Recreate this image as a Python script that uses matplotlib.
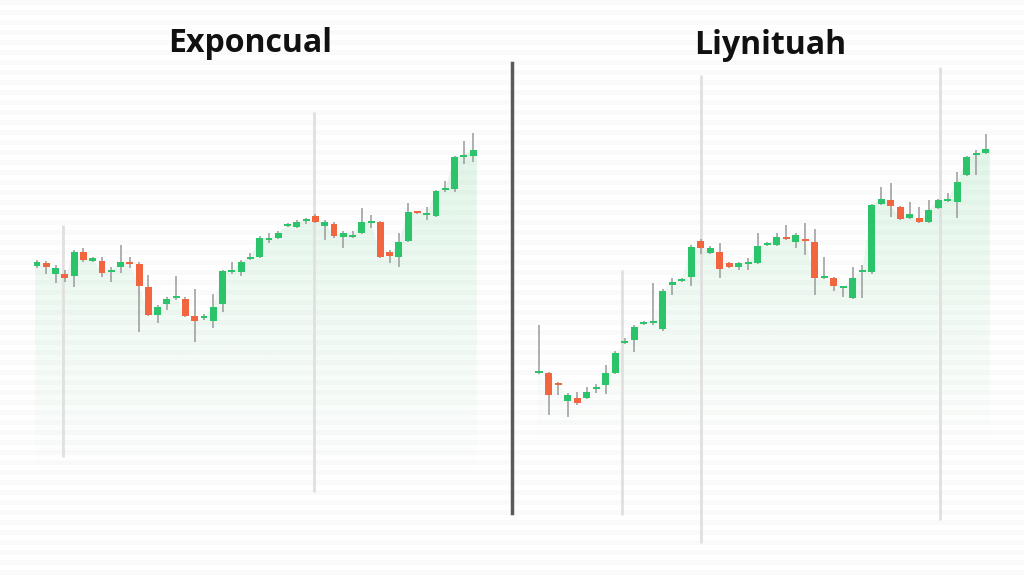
import matplotlib
matplotlib.use("Agg")
import matplotlib.pyplot as plt
import numpy as np
from matplotlib.patches import PathPatch
from matplotlib.path import Path
from matplotlib.lines import Line2D

# ---- data (price units) ----
titles = ["Exponcual", "Liynituah"]

left_open = [334, 337, 326, 326, 324, 348, 339, 339, 328, 333, 338, 336, 313, 285, 296, 302,
             301, 284, 282, 279, 296, 328, 328, 341, 343, 360, 362, 374, 373, 379, 384, 374,
             376, 363, 363, 367, 377, 378, 348, 343, 359, 388, 385, 384, 410, 411, 443, 444]
left_close = [338, 333, 332, 322, 348, 340, 342, 327, 330, 338, 336, 314, 285, 293, 301, 303,
              284, 279, 283, 293, 329, 329, 338, 343, 362, 361, 367, 375, 378, 380, 378, 378,
              364, 367, 364, 378, 378, 343, 344, 358, 388, 387, 387, 409, 411, 443, 445, 450]
left_high = [340, 339, 335, 330, 350, 352, 343, 343, 333, 355, 343, 338, 325, 295, 303, 324,
             303, 311, 286, 306, 330, 338, 340, 347, 364, 367, 369, 377, 380, 382, 386, 380,
             378, 369, 369, 392, 385, 379, 350, 367, 397, 389, 393, 410, 419, 444, 459, 467]
left_low = [332, 326, 317, 318, 313, 338, 338, 323, 318, 327, 332, 268, 284, 277, 290, 300,
            283, 258, 280, 272, 288, 326, 324, 340, 342, 357, 361, 373, 372, 376, 377, 360,
            362, 352, 362, 366, 372, 342, 337, 333, 358, 386, 380, 383, 408, 408, 436, 438]

right_open = [227, 227, 217, 199, 202, 202, 211, 215, 227, 257, 260, 276, 277, 271, 315, 319,
              323, 359, 347, 348, 337, 333, 336, 337, 355, 355, 362, 358, 360, 358, 322, 322,
              312, 302, 328, 328, 396, 400, 393, 382, 382, 378, 392, 399, 398, 425, 445, 447]
right_close = [228, 205, 215, 205, 197, 208, 212, 227, 247, 258, 273, 277, 278, 309, 318, 320,
               353, 352, 352, 331, 333, 337, 337, 354, 356, 363, 361, 365, 359, 322, 323, 314,
               313, 322, 329, 395, 401, 394, 381, 386, 378, 390, 400, 400, 418, 443, 446, 451]
right_high = [275, 228, 218, 207, 208, 213, 216, 235, 249, 262, 275, 279, 317, 311, 322, 322,
              355, 361, 354, 357, 338, 338, 342, 367, 358, 367, 375, 367, 377, 371, 343, 323,
              314, 333, 335, 396, 413, 417, 394, 398, 393, 400, 401, 407, 428, 444, 450, 466]
right_low = [226, 185, 205, 183, 195, 201, 207, 206, 226, 256, 248, 275, 275, 269, 305, 318,
             314, 346, 346, 322, 332, 330, 330, 336, 354, 354, 360, 352, 345, 305, 321, 309,
             303, 301, 302, 326, 395, 383, 380, 381, 377, 377, 391, 398, 382, 424, 425, 446]

GREEN = "#2bc46b"
RED = "#f2653f"
WICK = "#9a9a9a"
GUIDE = "#e0e0e0"


def draw_panel(ax, o, c, h, l, x0, step, fill_bottom, guides):
    o, c, h, l = map(np.array, (o, c, h, l))
    x = np.arange(len(o))
    ax.axis("off")
    ax.patch.set_alpha(0)

    # gradient fill under closes
    xs = np.concatenate([[x[0] - 0.2], x, [x[-1] + 0.4]])
    ys = np.concatenate([[c[0]], c, [c[-1]]])
    verts = np.column_stack([np.concatenate([xs, xs[::-1]]),
                             np.concatenate([ys, np.full(len(ys), fill_bottom)])])
    patch = PathPatch(Path(verts), facecolor="none", edgecolor="none")
    ax.add_patch(patch)
    grad = np.zeros((100, 1, 4))
    grad[:, 0, 0:3] = matplotlib.colors.to_rgb("#3cc46a")
    grad[:, 0, 3] = np.linspace(0.0, 0.15, 100)
    img = ax.imshow(grad, extent=[xs[0], xs[-1], fill_bottom, ys.max()],
                    origin="lower", aspect="auto", zorder=1, interpolation="bilinear")
    img.set_clip_path(patch)

    # guide lines
    for gx, gy0, gy1 in guides:
        ax.vlines((gx - x0) / step, gy0, gy1, color=GUIDE, lw=2, zorder=2)

    colors = [GREEN if cc >= oo else RED for oo, cc in zip(o, c)]
    ax.vlines(x, l, h, color=WICK, lw=1.1, zorder=3)
    bottom = np.minimum(o, c)
    height = np.maximum(np.abs(c - o), 2)
    ax.bar(x, height, bottom=bottom, width=0.74, color=colors, zorder=4)
    # half figure wide (512 px), full height: 1 price unit = 1 px
    ax.set_xlim(-x0 / step, (512 - x0) / step)
    ax.set_ylim(24, 600)


fig = plt.figure(figsize=(10.24, 5.76), dpi=100)
fig.patch.set_facecolor("white")

# faint striped background
bg = fig.add_axes([0, 0, 1, 1], zorder=-1)
bg.set_xlim(0, 1)
bg.set_ylim(576, 0)
bg.axis("off")
for yy in range(0, 576, 10):
    bg.axhspan(yy, yy + 5, color="#fafafa", lw=0)

ax1 = fig.add_axes([0, 0, 0.5, 1])
ax2 = fig.add_axes([0.5, 0, 0.5, 1])

draw_panel(ax1, left_open, left_close, left_high, left_low, 37, 9.28, 120,
           [(63, 375, 143), (314, 488, 108)])
draw_panel(ax2, right_open, right_close, right_high, right_low, 27, 9.51, 150,
           [(622 - 512, 330, 85), (701 - 512, 525, 57), (940 - 512, 533, 80)])

# divider
fig.add_artist(Line2D([512 / 1024, 512 / 1024], [1 - 63 / 576, 1 - 513 / 576],
                      color="#5a5a5a", lw=2.5))

fig.text(250 / 1024, 1 - 43 / 576, titles[0], ha="center", va="center",
         fontsize=23, fontweight="bold", family="Open Sans", color="#111111")
fig.text(770 / 1024, 1 - 45 / 576, titles[1], ha="center", va="center",
         fontsize=23, fontweight="bold", family="Open Sans", color="#111111")

fig.savefig("out.png", dpi=100)
